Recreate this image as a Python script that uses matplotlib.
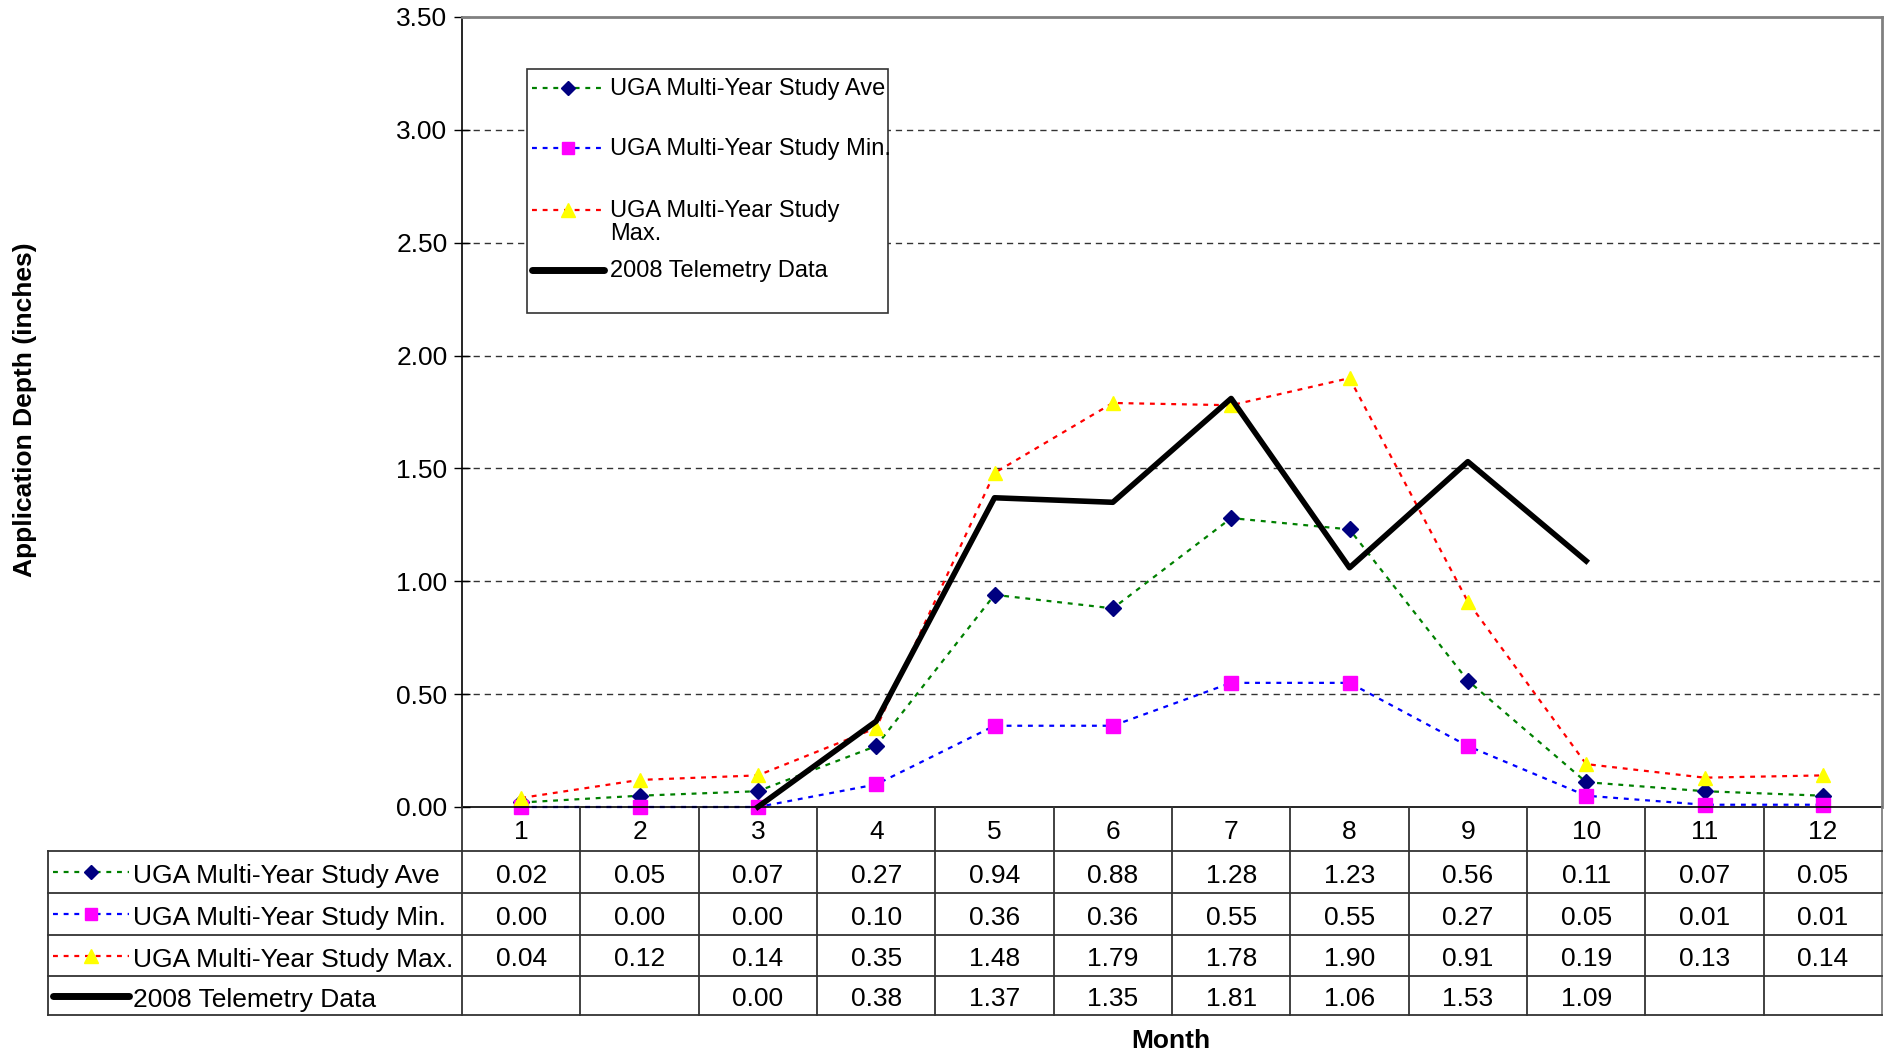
import numpy as np
import matplotlib
matplotlib.use("Agg")
import matplotlib.pyplot as plt
from matplotlib.lines import Line2D
from matplotlib.patches import Rectangle

plt.rcParams['font.family'] = ['Liberation Sans', 'DejaVu Sans']

months = [1, 2, 3, 4, 5, 6, 7, 8, 9, 10, 11, 12]
uga_ave = [0.02, 0.05, 0.07, 0.27, 0.94, 0.88, 1.28, 1.23, 0.56, 0.11, 0.07, 0.05]
uga_min = [0.00, 0.00, 0.00, 0.10, 0.36, 0.36, 0.55, 0.55, 0.27, 0.05, 0.01, 0.01]
uga_max = [0.04, 0.12, 0.14, 0.35, 1.48, 1.79, 1.78, 1.90, 0.91, 0.19, 0.13, 0.14]
telemetry = [None, None, 0.00, 0.38, 1.37, 1.35, 1.81, 1.06, 1.53, 1.09, None, None]

series_names = ["UGA Multi-Year Study Ave", "UGA Multi-Year Study Min.",
                "UGA Multi-Year Study Max.", "2008 Telemetry Data"]
yticks = [0.0, 0.5, 1.0, 1.5, 2.0, 2.5, 3.0, 3.5]

W, H = 1884, 1052
FS = 19
LFS = 17
dots = (0, (2.2, 2.6))

styles = [
    dict(color='#008000', ls=dots, lw=1.6, marker='D', ms=8, mfc='#000080', mec='#000080'),
    dict(color='#0000FF', ls=dots, lw=1.6, marker='s', ms=9.5, mfc='#FF00FF', mec='#FF00FF'),
    dict(color='#FF0000', ls=dots, lw=1.6, marker='^', ms=10.5, mfc='#FFFF00', mec='#FFFF00'),
    dict(color='black', ls='-', lw=4, marker=None),
]


def frac(x0, y0, x1, y1):
    # pixel box (top-left origin) -> figure fraction rect
    return [x0 / W, 1 - y1 / H, (x1 - x0) / W, (y1 - y0) / H]


fig = plt.figure(figsize=(W / 100, H / 100), dpi=100)

ax = fig.add_axes(frac(462, 17, 1882, 807))
tel = np.array([np.nan if v is None else v for v in telemetry])
data = [uga_ave, uga_min, uga_max, tel]
for vals, st in zip(data, styles):
    ax.plot(months, vals, clip_on=False, **st)

ax.set_xlim(0.5, 12.5)
ax.set_ylim(0, 3.5)
ax.set_yticks(yticks)
ax.set_yticklabels(["%.2f" % v for v in yticks], fontsize=FS)
ax.set_xticks([])
ax.tick_params(axis='y', direction='inout', length=11, width=1, pad=5)
for y in yticks[1:-1]:
    ax.axhline(y, color='#333333', lw=1, ls=(0, (4.5, 3.5)), zorder=0)
ax.spines['left'].set_linewidth(1.2)
ax.spines['bottom'].set_linewidth(1.2)
for s in ['top', 'right']:
    ax.spines[s].set_color('#808080')
    ax.spines[s].set_linewidth(2)

# data table under the plot
rows = [807, 851, 893, 935, 976, 1015]
tax = fig.add_axes(frac(48, 807, 1882, 1015))
tax.set_xlim(-3, 12.5)
tax.set_ylim(1015, 807)
tax.axis('off')
for xv in np.arange(0.5, 13, 1.0):
    col = '#808080' if xv == 12.5 else '#333333'
    tax.plot([xv, xv], [807, 1015], color=col, lw=1.3, clip_on=False)
tax.plot([-3, -3], [851, 1015], color='#333333', lw=1.3, clip_on=False)
for yv in rows[1:]:
    tax.plot([-3, 12.5], [yv, yv], color='#333333', lw=1.3, clip_on=False)
for m in months:
    tax.text(m, (rows[0] + rows[1]) / 2 + 3, str(m), ha='center', va='center', fontsize=FS)

px = 118.33
for i, (vals, st, name) in enumerate(zip([uga_ave, uga_min, uga_max, telemetry], styles, series_names)):
    yc = (rows[i + 1] + rows[i + 2]) / 2
    hx0 = -3 + (53 - 48) / px
    hx1 = -3 + (129 - 48) / px
    if st['marker']:
        tax.add_line(Line2D([hx0, hx1], [yc, yc], color=st['color'], ls=st['ls'], lw=st['lw']))
        tax.add_line(Line2D([(hx0 + hx1) / 2], [yc], marker=st['marker'], ms=st['ms'] * 0.9,
                            mfc=st['mfc'], mec=st['mec'], ls='none'))
    else:
        tax.add_line(Line2D([hx0, hx1], [yc, yc], color='black', lw=5, solid_capstyle='round'))
    tax.text(-3 + (133 - 48) / px, yc + 4, name, ha='left', va='center', fontsize=FS)
    for m, v in zip(months, vals):
        if v is not None:
            tax.text(m, yc + 4, "%.2f" % v, ha='center', va='center', fontsize=FS)

# legend box drawn in pixel space
ov = fig.add_axes([0, 0, 1, 1], zorder=5)
ov.set_xlim(0, W)
ov.set_ylim(H, 0)
ov.axis('off')
ov.add_patch(Rectangle((527, 69), 888 - 527, 313 - 69, fc='white', ec='#333333', lw=1.2))
leg_rows = [88, 148, 210, 270]
leg_labels = ["UGA Multi-Year Study Ave", "UGA Multi-Year Study Min.",
              "UGA Multi-Year Study\nMax.", "2008 Telemetry Data"]
for yc, st, lab in zip(leg_rows, styles, leg_labels):
    if st['marker']:
        ov.add_line(Line2D([532, 604], [yc, yc], color=st['color'], ls=st['ls'], lw=st['lw']))
        ov.add_line(Line2D([568], [yc], marker=st['marker'], ms=st['ms'] * 0.9,
                           mfc=st['mfc'], mec=st['mec'], ls='none'))
    else:
        ov.add_line(Line2D([532, 604], [yc, yc], color='black', lw=5, solid_capstyle='round'))
    ov.text(610, yc - 10, lab, ha='left', va='top', fontsize=LFS, linespacing=1.08)

fig.text(25 / W, 1 - 410 / H, "Application Depth (inches)", rotation=90, ha='center',
         va='center', fontsize=FS, fontweight='bold')
fig.text(1171 / W, 1 - 1041 / H, "Month", ha='center', va='center', fontsize=FS,
         fontweight='bold')

fig.savefig("out.png", dpi=100)
